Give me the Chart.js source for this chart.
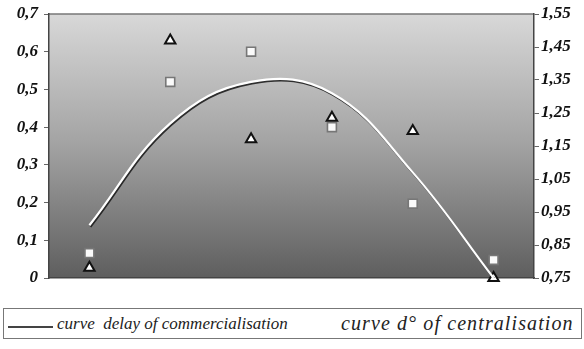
<!DOCTYPE html>
<html>
<head>
<meta charset="utf-8">
<script src="https://cdn.jsdelivr.net/npm/chart.js@4/dist/chart.umd.min.js"></script>
<style>
  body { margin: 0; background: #fff; width: 584px; height: 349px; overflow: hidden; position: relative; }
  #wrap { position: absolute; left: 0; top: 0; width: 584px; height: 290px; }
  #legend {
    position: absolute; left: 3px; top: 308px; width: 577px; height: 29px;
    border: 1px solid #777; font-family: "Liberation Serif", serif; font-style: italic;
  }
  #legend .line { position: absolute; left: 4px; top: 17px; width: 45px; height: 2px; background: #444; }
  #legend .t1 { position: absolute; left: 53px; top: 5px; font-size: 17px; color: #222; }
  #legend .t2 { position: absolute; left: 337px; top: 3px; font-size: 20px; letter-spacing: 1.1px; color: #222; }
</style>
</head>
<body>
<div id="wrap"><canvas id="chart"></canvas></div>
<div id="legend">
  <div class="line"></div>
  <span class="t1">curve &nbsp;delay of commercialisation</span>
  <span class="t2">curve d° of centralisation</span>
</div>
<script>
var categories     = ['1', '2', '3', '4', '5', '6'];
var delayCurve     = [0.14, 0.41, 0.52, 0.49, 0.28, 0];
var squareValues   = [0.066, 0.52, 0.60, 0.40, 0.197, 0.048];
var triangleValues = [0.027, 0.63, 0.368, 0.425, 0.39, 0];
var leftMin = 0,  leftMax = 0.7,  leftStep = 0.1;
var rightMin = 0.75, rightMax = 1.55, rightStep = 0.1;

function commaLabel(v) {
  if (Math.abs(v) < 1e-9) return '0';
  var s = (Math.round(v * 100) / 100).toString();
  return s.replace('.', ',');
}

var tickFontString = 'italic bold 17px "Liberation Serif", serif';

var plotBackground = {
  id: 'plotBackground',
  beforeDraw: function(chart) {
    var a = chart.chartArea, ctx = chart.ctx;
    var g = ctx.createLinearGradient(0, a.top, 0, a.bottom);
    g.addColorStop(0, '#d8d8d8');
    g.addColorStop(0.5, '#a2a2a2');
    g.addColorStop(1, '#5e5e5e');
    ctx.save();
    ctx.fillStyle = g;
    ctx.fillRect(a.left, a.top, a.right - a.left, a.bottom - a.top);
    ctx.strokeStyle = '#777';
    ctx.lineWidth = 1.5;
    ctx.beginPath();
    ctx.moveTo(a.left, a.top);
    ctx.lineTo(a.right, a.top);
    ctx.stroke();
    ctx.restore();
  },
  // tick labels drawn here so the serif italic font is used
  afterDraw: function(chart) {
    var ctx = chart.ctx;
    ctx.save();
    ctx.font = tickFontString;
    ctx.fillStyle = '#111';
    ctx.textBaseline = 'middle';
    var left = chart.scales.y, right = chart.scales.y2;
    ctx.textAlign = 'right';
    left.ticks.forEach(function(t) {
      ctx.fillText(commaLabel(t.value), left.right - 11, left.getPixelForValue(t.value));
    });
    ctx.textAlign = 'left';
    right.ticks.forEach(function(t) {
      ctx.fillText(commaLabel(t.value), right.left + 7, right.getPixelForValue(t.value));
    });
    ctx.restore();
  },
  beforeDatasetDraw: function(chart, args) {
    if (args.index === 0) {
      chart.ctx.save();
      chart.ctx.shadowColor = 'rgba(30,30,30,0.9)';
      chart.ctx.shadowOffsetX = 1;
      chart.ctx.shadowOffsetY = 1.5;
      chart.ctx.shadowBlur = 0.5;
    }
  },
  afterDatasetDraw: function(chart, args) {
    if (args.index === 0) chart.ctx.restore();
  }
};

new Chart(document.getElementById('chart'), {
  type: 'line',
  data: {
    labels: categories,
    datasets: [
      { label: 'curve delay of commercialisation', data: delayCurve, borderColor: '#ffffff', borderWidth: 2.2, pointRadius: 0, tension: 0.4, fill: false, yAxisID: 'y' },
      { label: 'squares', data: squareValues, showLine: false, pointStyle: 'rect', pointRadius: 6.3, pointBackgroundColor: '#fafafa', pointBorderColor: '#777777', pointBorderWidth: 1.6, clip: false, yAxisID: 'y' },
      { label: 'curve d° of centralisation', data: triangleValues, showLine: false, pointStyle: 'triangle', pointRadius: 6, pointBackgroundColor: '#ffffff', pointBorderColor: '#111111', pointBorderWidth: 2, clip: false, yAxisID: 'y' }
    ]
  },
  options: {
    responsive: true,
    maintainAspectRatio: false,
    animation: false,
    layout: { padding: { top: 14, bottom: 12, left: 0, right: 0 } },
    plugins: { legend: { display: false }, tooltip: { enabled: false } },
    scales: {
      x: {
        offset: true,
        grid: { display: false, drawTicks: false, offset: true },
        ticks: { display: false },
        border: { color: '#444', width: 1.5 },
        afterFit: function(s) { s.height = 0; }
      },
      y: {
        position: 'left',
        min: leftMin, max: leftMax,
        grid: { drawOnChartArea: false, tickLength: 5, color: '#666' },
        border: { color: '#444', width: 1.5 },
        ticks: { stepSize: leftStep, display: false },
        afterFit: function(s) { s.width = 49; }
      },
      y2: {
        position: 'right',
        min: rightMin, max: rightMax,
        grid: { drawOnChartArea: false, tickLength: 5, color: '#666' },
        border: { color: '#444', width: 1.5 },
        ticks: { stepSize: rightStep, display: false },
        afterFit: function(s) { s.width = 50; }
      }
    }
  },
  plugins: [plotBackground]
});
</script>
</body>
</html>
